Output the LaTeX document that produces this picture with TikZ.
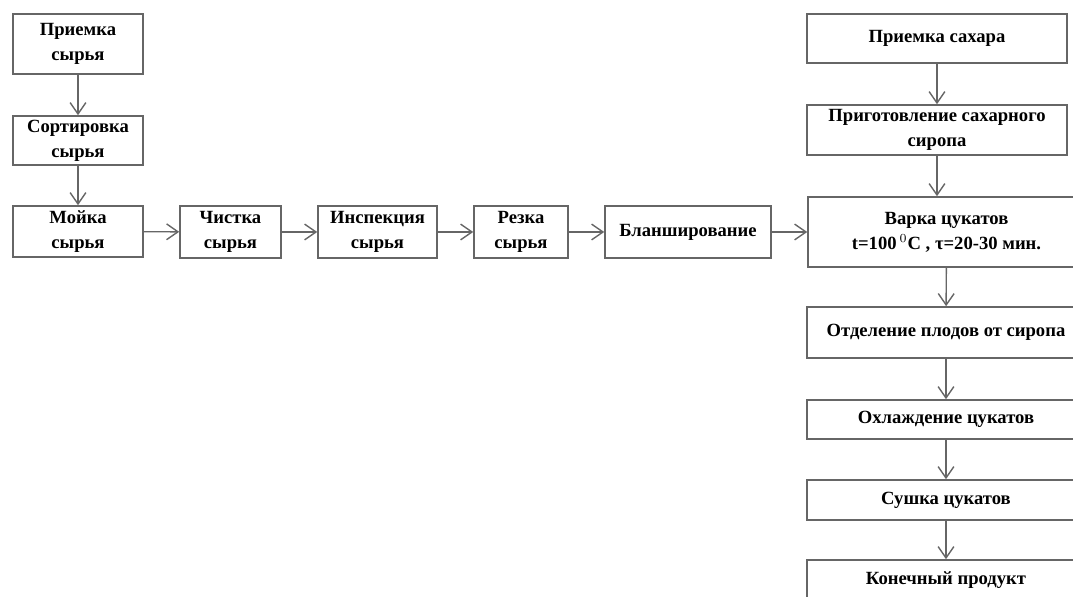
\documentclass[tikz,border=0pt]{standalone}
\usepackage{fontspec}
\setmainfont{Liberation Serif}
\usetikzlibrary{arrows.meta}
\begin{document}
\begin{tikzpicture}[x=0.02cm, y=-0.02cm,
  stagebox/.style={draw=black!60, line width=0.9pt, align=center, inner sep=0pt,
    font=\fontsize{10.6}{14.2}\selectfont\bfseries},
  flow/.style={draw=black!60, line width=0.8pt, -{Straight Barb[length=6.5pt, width=9pt]}}]
\useasboundingbox (0,0) rectangle (1073,597);
\clip (0,0) rectangle (1073,597);
% left column
\node[stagebox, minimum width=2.6cm, minimum height=1.2cm] (rawin) at (78,44) {Приемка\\сырья};
\node[stagebox, minimum width=2.6cm, minimum height=0.98cm] (sort) at (78,140.5) {Сортировка\\сырья};
\node[stagebox, minimum width=2.6cm, minimum height=1.02cm] (wash) at (78,231.5) {Мойка\\сырья};
% middle row
\node[stagebox, minimum width=2.02cm, minimum height=1.04cm] (peel) at (230.5,232) {Чистка\\сырья};
\node[stagebox, minimum width=2.38cm, minimum height=1.04cm] (insp) at (377.5,232) {Инспекция\\сырья};
\node[stagebox, minimum width=1.88cm, minimum height=1.04cm] (cut) at (521,232) {Резка\\сырья};
\node[stagebox, minimum width=3.32cm, minimum height=1.04cm] (blanch) at (688,232) {Бланширование};
% right column
\node[stagebox, minimum width=5.2cm, minimum height=0.98cm] (sugar) at (937,38.5) {Приемка сахара};
\node[stagebox, minimum width=5.2cm, minimum height=1.0cm] (syrup) at (937,130) {Приготовление сахарного\\сиропа};
\node[stagebox, minimum width=5.54cm, minimum height=1.4cm] (boil) at (946.5,232) {Варка цукатов\\t=100\,$^{0}$C , τ=20-30 мин.};
\node[stagebox, minimum width=5.56cm, minimum height=1.02cm] (split) at (946,332.5) {Отделение плодов от сиропа};
\node[stagebox, minimum width=5.56cm, minimum height=0.78cm] (cool) at (946,419.5) {Охлаждение цукатов};
\node[stagebox, minimum width=5.56cm, minimum height=0.8cm] (dry) at (946,500) {Сушка цукатов};
\node[stagebox, minimum width=5.56cm, minimum height=0.8cm] (prod) at (946,580) {Конечный продукт};
% arrows
\draw[flow] (rawin) -- (sort);
\draw[flow] (sort) -- (wash);
\draw[flow] (wash) -- (peel);
\draw[flow] (peel) -- (insp);
\draw[flow] (insp) -- (cut);
\draw[flow] (cut) -- (blanch);
\draw[flow] (blanch) -- (boil);
\draw[flow] (sugar) -- (syrup);
\draw[flow] (syrup.south) -- (syrup.south |- boil.north);
\draw[flow] (boil) -- (split);
\draw[flow] (split) -- (cool);
\draw[flow] (cool) -- (dry);
\draw[flow] (dry) -- (prod);
\end{tikzpicture}
\end{document}
